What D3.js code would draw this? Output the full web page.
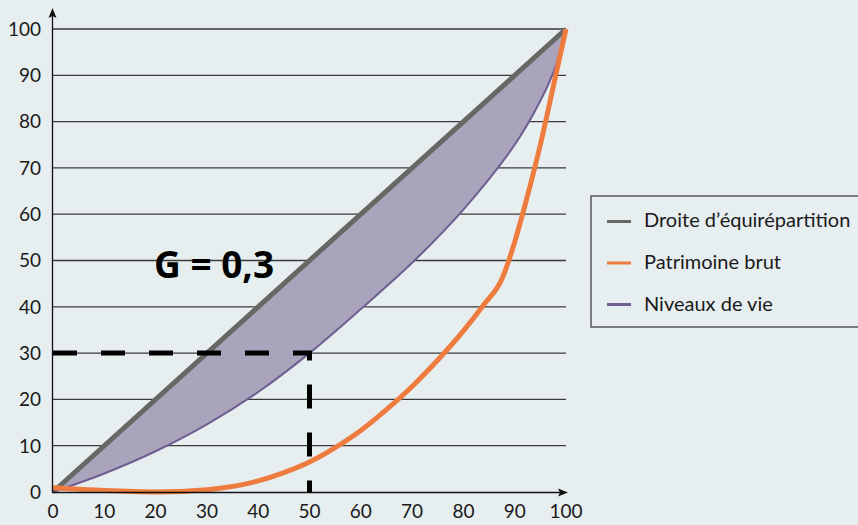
<!DOCTYPE html>
<html>
<head>
<meta charset="utf-8">
<script src="https://cdn.jsdelivr.net/npm/d3@7"></script>
<style>
  body { margin: 0; background: #e7eef0; }
  svg { display: block; font-family: Lato, "Open Sans", sans-serif; }
</style>
</head>
<body>
<div id="chart"></div>
<script>
// tick values for both axes (percent)
const ticks = [0, 10, 20, 30, 40, 50, 60, 70, 80, 90, 100];

// droite d'équirépartition
const equalLine = [[0, 0], [100, 100]];

// courbe de Lorenz des niveaux de vie
const lifeX = [0, 10, 20, 30, 40, 50, 60, 70, 80, 90, 95, 98, 100];
const lifeY = [0, 4, 8.8, 14.6, 21.6, 30, 39.5, 49.5, 61, 75, 84.5, 92, 100];

// courbe de Lorenz du patrimoine brut
const wealthX = [0, 10, 20, 30, 40, 45, 50, 55, 60, 65, 70, 75, 80, 84, 87.5, 90, 92.5, 95, 98, 100];
const wealthY = [0.9, 0.3, 0, 0.5, 2.4, 4.2, 6.5, 9.6, 13.3, 17.8, 22.8, 28.5, 34.8, 40.5, 46, 54, 64, 75, 90, 100];

// repère pointillé : 50 % des individus -> 30 %
const guide = [[0, 30], [50, 30], [50, 0]];

const legendItems = [
  { label: "Droite d’équirépartition", color: "#676764" },
  { label: "Patrimoine brut", color: "#ee7c3e" },
  { label: "Niveaux de vie", color: "#6e5e91" }
];

const width = 858, height = 525;

const x = d3.scaleLinear().domain([0, 100]).range([53, 566]);
const y = d3.scaleLinear().domain([0, 100]).range([492, 29]);

const svg = d3.select("#chart").append("svg")
    .attr("width", width)
    .attr("height", height);

svg.append("rect")
    .attr("width", width)
    .attr("height", height)
    .attr("fill", "#e7eef0");

// horizontal grid lines
svg.append("g")
  .selectAll("line")
  .data(ticks.filter(d => d > 0))
  .join("line")
    .attr("x1", x(0))
    .attr("x2", x(100))
    .attr("y1", d => y(d))
    .attr("y2", d => y(d))
    .attr("stroke", "#3a3a3a")
    .attr("stroke-width", 1.3);

const life = lifeX.map((v, i) => [v, lifeY[i]]);
const wealth = wealthX.map((v, i) => [v, wealthY[i]]);

// shaded area between diagonal and niveaux de vie
const area = d3.area()
    .x(d => x(d[0]))
    .y0(d => y(d[1]))
    .y1(d => y(d[0]))
    .curve(d3.curveCatmullRom.alpha(0.5));

svg.append("path")
    .datum(life)
    .attr("d", area)
    .attr("fill", "#a9a4bb");

const line = d3.line()
    .x(d => x(d[0]))
    .y(d => y(d[1]))
    .curve(d3.curveMonotoneX);

const smoothLine = d3.line()
    .x(d => x(d[0]))
    .y(d => y(d[1]))
    .curve(d3.curveCatmullRom.alpha(0.5));

svg.append("path")
    .datum(equalLine)
    .attr("d", line)
    .attr("fill", "none")
    .attr("stroke", "#676764")
    .attr("stroke-width", 5);

svg.append("path")
    .datum(life)
    .attr("d", smoothLine)
    .attr("fill", "none")
    .attr("stroke", "#6e5e91")
    .attr("stroke-width", 2);

// dashed guide
svg.append("path")
    .datum(guide)
    .attr("d", d3.line().x(d => x(d[0])).y(d => y(d[1])))
    .attr("fill", "none")
    .attr("stroke", "#000")
    .attr("stroke-width", 5)
    .attr("stroke-dasharray", "24,24");

svg.append("path")
    .datum(wealth)
    .attr("d", line)
    .attr("fill", "none")
    .attr("stroke", "#ee7c3e")
    .attr("stroke-width", 5)
    .attr("stroke-linecap", "butt");

// axes with arrows
const axisColor = "#111";
svg.append("line")
    .attr("x1", 52.5).attr("x2", 52.5)
    .attr("y1", y(0)).attr("y2", 14)
    .attr("stroke", axisColor).attr("stroke-width", 1.3);
svg.append("path")
    .attr("d", "M52.5,8 L48.5,18 L52.5,16 L56.5,18 Z")
    .attr("fill", axisColor);

svg.append("line")
    .attr("x1", 52).attr("x2", 562)
    .attr("y1", y(0) + 0.5).attr("y2", y(0) + 0.5)
    .attr("stroke", axisColor).attr("stroke-width", 1.3);
svg.append("path")
    .attr("d", `M568,${y(0) + 0.5} L558,${y(0) - 3.5} L560,${y(0) + 0.5} L558,${y(0) + 4.5} Z`)
    .attr("fill", axisColor);

// tick labels
svg.append("g")
  .selectAll("text")
  .data(ticks)
  .join("text")
    .attr("x", 41)
    .attr("y", d => y(d))
    .attr("dy", "0.36em")
    .attr("text-anchor", "end")
    .attr("font-size", 19)
    .attr("fill", "#1a1a1a")
    .text(d => d);

svg.append("g")
  .selectAll("text")
  .data(ticks)
  .join("text")
    .attr("x", d => x(d))
    .attr("y", 518)
    .attr("text-anchor", "middle")
    .attr("font-size", 19)
    .attr("fill", "#1a1a1a")
    .text(d => d);

// Gini label
svg.append("text")
    .attr("x", 154)
    .attr("y", 278)
    .attr("font-family", "'Open Sans', Lato, sans-serif")
    .attr("font-size", 37)
    .attr("font-weight", "bold")
    .attr("fill", "#000")
    .text("G = 0,3");

// legend
const lg = svg.append("g");
lg.append("rect")
    .attr("x", 591)
    .attr("y", 196)
    .attr("width", 300)
    .attr("height", 131)
    .attr("fill", "none")
    .attr("stroke", "#555")
    .attr("stroke-width", 1.5);

lg.selectAll("line")
  .data(legendItems)
  .join("line")
    .attr("x1", 607).attr("x2", 631)
    .attr("y1", (d, i) => 221.5 + i * 41.5)
    .attr("y2", (d, i) => 221.5 + i * 41.5)
    .attr("stroke", d => d.color)
    .attr("stroke-width", 3);

lg.selectAll("text")
  .data(legendItems)
  .join("text")
    .attr("x", 644)
    .attr("y", (d, i) => 227 + i * 41.8)
    .attr("font-size", 20)
    .attr("fill", "#1a1a1a")
    .text(d => d.label);
</script>
</body>
</html>
